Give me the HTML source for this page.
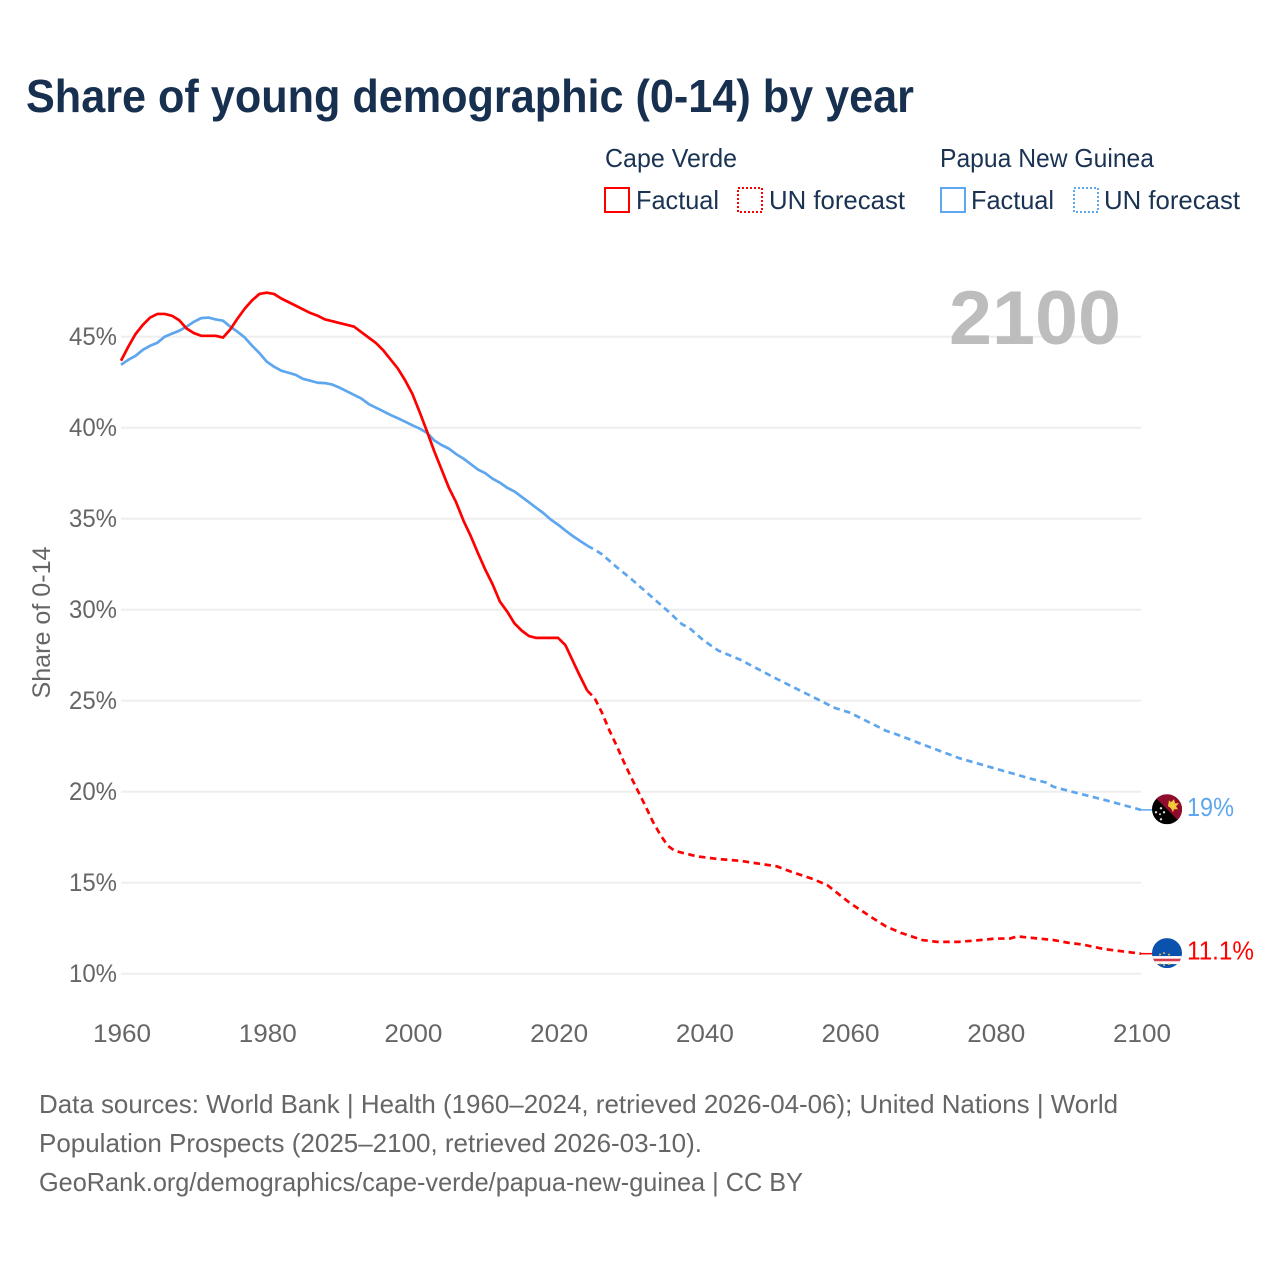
<!DOCTYPE html>
<html lang="en">
<head>
<meta charset="utf-8">
<title>Share of young demographic (0-14) by year</title>
<style>
html,body{margin:0;padding:0;background:#fff;}
svg{display:block;font-family:"Liberation Sans",sans-serif;}
</style>
</head>
<body>
<svg id="chart" xmlns="http://www.w3.org/2000/svg" width="1280" height="1280" viewBox="0 0 1280 1280">
  <defs>
    <clipPath id="flag-clip-pg"><circle cx="0" cy="0" r="15"/></clipPath>
    <clipPath id="flag-clip-cv"><circle cx="0" cy="0" r="15"/></clipPath>
  </defs>
  <rect width="1280" height="1280" fill="#fff"/>
  <text x="26" y="112" font-size="46" font-weight="700" fill="#17304f" textLength="888" lengthAdjust="spacingAndGlyphs">Share of young demographic (0-14) by year</text>

  <g font-size="26" fill="#1a3353">
    <text x="605" y="167" textLength="132" lengthAdjust="spacingAndGlyphs">Cape Verde</text>
    <rect x="605" y="188" width="24" height="24" fill="none" stroke="#ff0000" stroke-width="2"/>
    <text x="636" y="209" textLength="83" lengthAdjust="spacingAndGlyphs">Factual</text>
    <rect x="738" y="188" width="24" height="24" fill="none" stroke="#ff0000" stroke-width="2" stroke-dasharray="2 2"/>
    <text x="769" y="209" textLength="136" lengthAdjust="spacingAndGlyphs">UN forecast</text>

    <text x="940" y="167" textLength="214" lengthAdjust="spacingAndGlyphs">Papua New Guinea</text>
    <rect x="941" y="188" width="24" height="24" fill="none" stroke="#5ea6ee" stroke-width="2"/>
    <text x="971" y="209" textLength="83" lengthAdjust="spacingAndGlyphs">Factual</text>
    <rect x="1074" y="188" width="24" height="24" fill="none" stroke="#5ea6ee" stroke-width="2" stroke-dasharray="2 2"/>
    <text x="1104" y="209" textLength="136" lengthAdjust="spacingAndGlyphs">UN forecast</text>
  </g>

  <g id="grid"></g>
  <g id="y-ticks" font-size="25" fill="#666"></g>
  <g id="x-ticks" font-size="25" fill="#666"></g>
  <text transform="translate(50,622.5) rotate(-90)" text-anchor="middle" font-size="25" fill="#666" textLength="152" lengthAdjust="spacingAndGlyphs">Share of 0-14</text>
  <text x="949" y="344" font-size="76" font-weight="700" fill="#bdbdbd" textLength="172" lengthAdjust="spacingAndGlyphs">2100</text>

  <g id="series"></g>

  <g id="flag-pg">
    <g clip-path="url(#flag-clip-pg)">
      <rect x="-15" y="-15" width="30" height="30" fill="#000"/>
      <polygon points="-15,-15 15,-15 15,15" fill="#8f0c2c"/>
      <polygon points="2,-9 4,-7 7,-10 8,-6 12,-6 9,-3 11,0 7,0 6,3 4,-1 1,-3" fill="#f5c83c"/>
      <circle cx="-6" cy="-1" r="1.2" fill="#ddd"/>
      <circle cx="-11" cy="3" r="1.2" fill="#ddd"/>
      <circle cx="-3" cy="3" r="1.2" fill="#ddd"/>
      <circle cx="-7" cy="5" r="1" fill="#ddd"/>
      <circle cx="-6" cy="10" r="1.2" fill="#ddd"/>
    </g>
  </g>
  <g id="flag-cv">
    <g clip-path="url(#flag-clip-cv)">
      <rect x="-15" y="-15" width="30" height="30" fill="#0a52ae"/>
      <rect x="-15" y="3" width="30" height="8" fill="#fff"/>
      <rect x="-15" y="5.6" width="30" height="2.6" fill="#d93a4a"/>
      <g fill="#f2cf4a">
        <circle cx="-7" cy="1.5" r="0.9"/><circle cx="-3" cy="0" r="0.9"/><circle cx="2" cy="1.5" r="0.9"/>
        <circle cx="-7" cy="10.5" r="0.9"/><circle cx="-3" cy="12" r="0.9"/><circle cx="2" cy="11" r="0.9"/>
      </g>
    </g>
  </g>
  <text id="end-label-pg" x="1187" font-size="26" fill="#5ea6ee" textLength="47" lengthAdjust="spacingAndGlyphs"></text>
  <text id="end-label-cv" x="1187" font-size="26" fill="#ff0000" textLength="67" lengthAdjust="spacingAndGlyphs"></text>

  <g font-size="26" fill="#666">
    <text x="39" y="1113" textLength="1079" lengthAdjust="spacingAndGlyphs">Data sources: World Bank | Health (1960–2024, retrieved 2026-04-06); United Nations | World</text>
    <text x="39" y="1152" textLength="663" lengthAdjust="spacingAndGlyphs">Population Prospects (2025–2100, retrieved 2026-03-10).</text>
    <text x="39" y="1191" textLength="764" lengthAdjust="spacingAndGlyphs">GeoRank.org/demographics/cape-verde/papua-new-guinea | CC BY</text>
  </g>
</svg>
<script>
var xTickYears = [1960, 1980, 2000, 2020, 2040, 2060, 2080, 2100];
var yTickValues = [10, 15, 20, 25, 30, 35, 40, 45];
var factualYears = [1960,1961,1962,1963,1964,1965,1966,1967,1968,1969,1970,1971,1972,1973,1974,1975,1976,1977,1978,1979,1980,1981,1982,1983,1984,1985,1986,1987,1988,1989,1990,1991,1992,1993,1994,1995,1996,1997,1998,1999,2000,2001,2002,2003,2004,2005,2006,2007,2008,2009,2010,2011,2012,2013,2014,2015,2016,2017,2018,2019,2020,2021,2022,2023,2024];
var capeVerdeFactual = [43.68,44.45,45.15,45.65,46.05,46.25,46.25,46.15,45.9,45.45,45.2,45.05,45.05,45.05,44.95,45.4,46.0,46.55,47.0,47.35,47.42,47.35,47.1,46.9,46.7,46.5,46.3,46.15,45.95,45.85,45.75,45.65,45.55,45.25,44.95,44.65,44.25,43.75,43.25,42.6,41.85,40.85,39.8,38.7,37.7,36.7,35.9,34.9,34.05,33.1,32.2,31.4,30.45,29.9,29.25,28.85,28.55,28.45,28.45,28.45,28.45,28.05,27.2,26.35,25.55];
var papuaFactual = [43.46,43.73,43.95,44.28,44.5,44.67,45.0,45.17,45.33,45.55,45.82,46.02,46.05,45.95,45.88,45.55,45.27,44.95,44.5,44.1,43.63,43.35,43.13,43.02,42.9,42.68,42.58,42.47,42.45,42.37,42.2,42.0,41.8,41.6,41.3,41.1,40.9,40.7,40.52,40.33,40.13,39.95,39.72,39.3,39.05,38.85,38.55,38.3,38.0,37.7,37.5,37.2,36.98,36.7,36.5,36.2,35.9,35.6,35.3,34.95,34.67,34.35,34.05,33.78,33.52];
var capeVerdeForecastYears = [2024,2025,2026,2027,2028,2029,2030,2031,2032,2033,2034,2035,2036,2037,2038,2039,2040,2042,2045,2048,2050,2052,2055,2057,2060,2063,2065,2067,2070,2072,2075,2078,2080,2082,2083,2085,2088,2090,2092,2095,2098,2100];
var capeVerdeForecast = [25.55,25.15,24.35,23.4,22.55,21.65,20.8,20.0,19.2,18.35,17.65,17.05,16.75,16.65,16.55,16.45,16.4,16.3,16.2,16.02,15.9,15.6,15.2,14.85,13.9,13.1,12.6,12.25,11.85,11.75,11.75,11.85,11.93,11.93,12.05,11.97,11.85,11.7,11.6,11.35,11.2,11.1];
var papuaForecastYears = [2024,2025,2026,2028,2030,2033,2035,2037,2038,2040,2042,2045,2050,2055,2058,2060,2065,2067,2070,2075,2080,2085,2087,2088,2090,2095,2100];
var papuaForecast = [33.52,33.3,33.05,32.35,31.7,30.65,29.95,29.2,29.0,28.3,27.75,27.25,26.2,25.2,24.6,24.35,23.35,23.07,22.6,21.85,21.27,20.7,20.5,20.27,20.05,19.55,19.0];

var SVG_NS = 'http://www.w3.org/2000/svg';
function xScale(year) { return 121 + (year - 1960) * (1141 - 121) / 140; }
function yScale(value) { return 973.7 - (value - 10) * 18.2; }
function makePath(years, values) {
  var d = '';
  for (var i = 0; i < years.length; i++) {
    d += (i ? 'L' : 'M') + xScale(years[i]).toFixed(2) + ' ' + yScale(values[i]).toFixed(2);
  }
  return d;
}

var gridGroup = document.getElementById('grid');
var yTickGroup = document.getElementById('y-ticks');
yTickValues.forEach(function (v) {
  var line = document.createElementNS(SVG_NS, 'line');
  
  
  line.setAttribute('x1', xScale(1960));
  line.setAttribute('x2', xScale(2100));
  line.setAttribute('y1', yScale(v));
  line.setAttribute('y2', yScale(v));
  line.setAttribute('stroke', '#eeeeee');
  line.setAttribute('stroke-width', '2');
  gridGroup.appendChild(line);
  var label = document.createElementNS(SVG_NS, 'text');
  
  
  label.setAttribute('x', '117');
  label.setAttribute('y', yScale(v) + 8.5);
  label.setAttribute('text-anchor', 'end');
  label.setAttribute('textLength', '48');
  label.setAttribute('lengthAdjust', 'spacingAndGlyphs');
  label.textContent = v + '%';
  yTickGroup.appendChild(label);
});

var xTickGroup = document.getElementById('x-ticks');
xTickYears.forEach(function (year) {
  var label = document.createElementNS(SVG_NS, 'text');
  
  
  label.setAttribute('x', xScale(year) + 1);
  label.setAttribute('y', '1042');
  label.setAttribute('text-anchor', 'middle');
  label.setAttribute('textLength', '58');
  label.setAttribute('lengthAdjust', 'spacingAndGlyphs');
  label.textContent = year;
  xTickGroup.appendChild(label);
});

var seriesGroup = document.getElementById('series');
function addLine(name, years, values, color, dashed) {
  var path = document.createElementNS(SVG_NS, 'path');
  
  
  path.setAttribute('d', makePath(years, values));
  path.setAttribute('fill', 'none');
  path.setAttribute('stroke', color);
  path.setAttribute('stroke-width', '2.7');
  path.setAttribute('stroke-linejoin', 'round');
  if (dashed) path.setAttribute('stroke-dasharray', '6.5 4.5');
  seriesGroup.appendChild(path);
}
addLine('papua-factual-line', factualYears, papuaFactual, '#5ea6ee', false);
addLine('papua-forecast-line', papuaForecastYears, papuaForecast, '#5ea6ee', true);
addLine('cape-verde-factual-line', factualYears, capeVerdeFactual, '#ff0000', false);
addLine('cape-verde-forecast-line', capeVerdeForecastYears, capeVerdeForecast, '#ff0000', true);

function addEnd(flagId, labelId, name, value, color) {
  var y = yScale(value);
  var conn = document.createElementNS(SVG_NS, 'line');
  
  
  conn.setAttribute('x1', xScale(2100));
  conn.setAttribute('x2', xScale(2100) + 12);
  conn.setAttribute('y1', y);
  conn.setAttribute('y2', y);
  conn.setAttribute('stroke', color);
  conn.setAttribute('stroke-width', '1.5');
  seriesGroup.appendChild(conn);
  document.getElementById(flagId).setAttribute('transform', 'translate(1167,' + (y - 0.6) + ')');
  var label = document.getElementById(labelId);
  label.setAttribute('y', y + 6);
  label.textContent = value + '%';
}
addEnd('flag-pg', 'end-label-pg', 'papua', papuaForecast[papuaForecast.length - 1], '#5ea6ee');
addEnd('flag-cv', 'end-label-cv', 'cape-verde', capeVerdeForecast[capeVerdeForecast.length - 1], '#ff0000');
</script>
</body>
</html>
